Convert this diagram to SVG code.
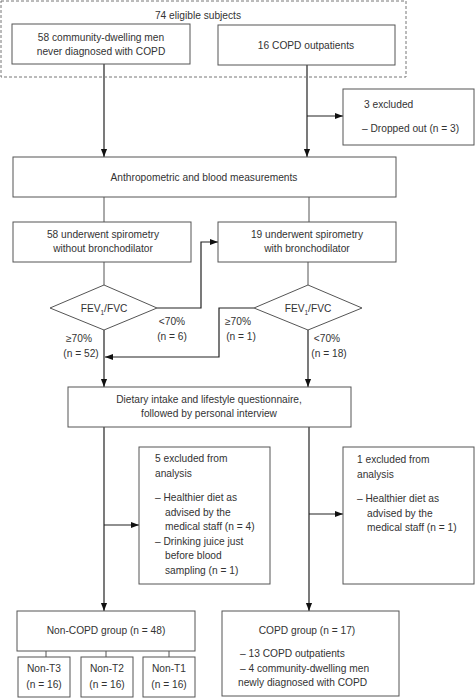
<svg xmlns="http://www.w3.org/2000/svg" width="475" height="698" viewBox="0 0 475 698">
<defs>
<marker id="ah" viewBox="0 0 10 10" refX="10" refY="5" markerWidth="8" markerHeight="8" markerUnits="userSpaceOnUse" orient="auto">
<path d="M0,1.2 L10,5 L0,8.8 Z" fill="#111"/>
</marker>
<style>
.b{fill:#fff;stroke:#555;stroke-width:1}
.t{font-family:"Liberation Sans",Arial,sans-serif;font-size:10.2px;fill:#333}
.m{text-anchor:middle}
.c{fill:none;stroke:#222;stroke-width:1.2}
.a{fill:none;stroke:#222;stroke-width:1.2;marker-end:url(#ah)}
.p{fill:none;stroke:#555;stroke-width:1}
</style>
</defs>
<rect width="475" height="698" fill="#fff"/>
<g id="connectors">
<path class="a" d="M104,64 V157"/>
<path class="a" d="M307,65 V157"/>
<path class="a" d="M307,116 H343"/>
<path class="p" d="M104,197 V222"/>
<path class="p" d="M309,197 V222"/>
<path class="p" d="M104,262 V285"/>
<path class="p" d="M308,262 V285"/>
<path class="a" d="M157,308 H201 V242 H218"/>
<path class="a" d="M104,330 V387"/>
<path class="a" d="M254,308 H219 V357 H105"/>
<path class="a" d="M308,330 V387"/>
<path class="a" d="M104,427 V611"/>
<path class="a" d="M104,525 H139"/>
<path class="a" d="M309,427 V611"/>
<path class="a" d="M309,514 H343"/>
<path class="p" d="M46,651 V657 M106,651 V657 M169,651 V657"/>
</g>
<g id="eligible">
<rect x="1" y="1" width="405" height="76" fill="none" stroke="#777" stroke-dasharray="3,2"/>
<text class="t m" x="198" y="19">74 eligible subjects</text>
</g>
<g id="community">
<rect class="b" x="12" y="24" width="178" height="40"/>
<text class="t m" x="101" y="41">58 community-dwelling men</text>
<text class="t m" x="101" y="55">never diagnosed with COPD</text>
</g>
<g id="outpatients">
<rect class="b" x="218" y="25" width="177" height="40"/>
<text class="t m" x="306" y="48.5">16 COPD outpatients</text>
</g>
<g id="excluded3">
<rect class="b" x="343" y="89" width="131" height="56"/>
<text class="t" x="364" y="108">3 excluded</text>
<text class="t" x="362" y="132">– Dropped out (n = 3)</text>
</g>
<g id="anthro">
<rect class="b" x="13" y="157" width="383" height="40"/>
<text class="t m" x="204" y="181">Anthropometric and blood measurements</text>
</g>
<g id="spiro1">
<rect class="b" x="13" y="222" width="178" height="40"/>
<text class="t m" x="103" y="238">58 underwent spirometry</text>
<text class="t m" x="103" y="252">without bronchodilator</text>
</g>
<g id="spiro2">
<rect class="b" x="218" y="222" width="178" height="40"/>
<text class="t m" x="307" y="238">19 underwent spirometry</text>
<text class="t m" x="307" y="252">with bronchodilator</text>
</g>
<g id="diamond1">
<polygon class="b" points="104,285 157,308 104,330 50,308"/>
<text class="t m" x="104" y="312">FEV<tspan font-size="6.5" dy="2.5">1</tspan><tspan dy="-2.5">/FVC</tspan></text>
</g>
<g id="diamond2">
<polygon class="b" points="308,285 362,308 308,330 254,308"/>
<text class="t m" x="308" y="312">FEV<tspan font-size="6.5" dy="2.5">1</tspan><tspan dy="-2.5">/FVC</tspan></text>
</g>
<g id="labels">
<text class="t m" x="172" y="325">&lt;70%</text>
<text class="t m" x="172" y="340">(n = 6)</text>
<text class="t m" x="79" y="342">≥70%</text>
<text class="t m" x="81" y="357">(n = 52)</text>
<text class="t m" x="238" y="325">≥70%</text>
<text class="t m" x="241" y="340">(n = 1)</text>
<text class="t m" x="327" y="342">&lt;70%</text>
<text class="t m" x="329" y="357">(n = 18)</text>
</g>
<g id="dietary">
<rect class="b" x="68" y="387" width="283" height="40"/>
<text class="t m" x="209" y="403">Dietary intake and lifestyle questionnaire,</text>
<text class="t m" x="209" y="417">followed by personal interview</text>
</g>
<g id="excluded5">
<rect class="b" x="139" y="447" width="131" height="137"/>
<text class="t" x="155" y="462">5 excluded from</text>
<text class="t" x="155" y="477">analysis</text>
<text class="t" x="155" y="501">– Healthier diet as</text>
<text class="t" x="165" y="515.5">advised by the</text>
<text class="t" x="165" y="530">medical staff (n = 4)</text>
<text class="t" x="155" y="544.5">– Drinking juice just</text>
<text class="t" x="165" y="559">before blood</text>
<text class="t" x="165" y="573.5">sampling (n = 1)</text>
</g>
<g id="excluded1">
<rect class="b" x="343" y="447" width="131" height="137"/>
<text class="t" x="357" y="463">1 excluded from</text>
<text class="t" x="357" y="477.5">analysis</text>
<text class="t" x="357" y="502">– Healthier diet as</text>
<text class="t" x="367" y="516.5">advised by the</text>
<text class="t" x="367" y="531">medical staff (n = 1)</text>
</g>
<g id="noncopd">
<rect class="b" x="17" y="611" width="178" height="40"/>
<text class="t m" x="106" y="634">Non-COPD group (n = 48)</text>
</g>
<g id="nonT3">
<rect class="b" x="18" y="657" width="52" height="40"/>
<text class="t m" x="44" y="672">Non-T3</text>
<text class="t m" x="44" y="688">(n = 16)</text>
</g>
<g id="nonT2">
<rect class="b" x="81" y="657" width="52" height="40"/>
<text class="t m" x="107" y="672">Non-T2</text>
<text class="t m" x="107" y="688">(n = 16)</text>
</g>
<g id="nonT1">
<rect class="b" x="143" y="657" width="52" height="40"/>
<text class="t m" x="169" y="672">Non-T1</text>
<text class="t m" x="169" y="688">(n = 16)</text>
</g>
<g id="copd">
<rect class="b" x="222" y="611" width="177" height="85"/>
<text class="t m" x="307" y="634">COPD group (n = 17)</text>
<text class="t" x="240" y="657">– 13 COPD outpatients</text>
<text class="t" x="240" y="671.5">– 4 community-dwelling men</text>
<text class="t" x="238" y="686">newly diagnosed with COPD</text>
</g>
</svg>
